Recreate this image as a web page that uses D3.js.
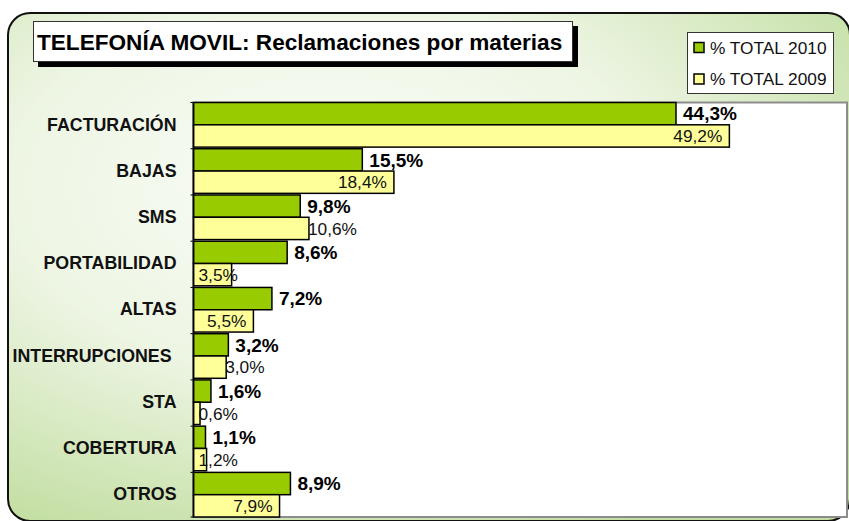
<!DOCTYPE html>
<html lang="es">
<head>
<meta charset="utf-8">
<script src="https://d3js.org/d3.v7.min.js"></script>
<style>
  body { margin: 0; background: #fff; }
  text { font-family: "Liberation Sans", Arial, sans-serif; }
</style>
</head>
<body>

<svg width="849" height="521"></svg>

<script>

// data
var categories = ["FACTURACIÓN", "BAJAS", "SMS", "PORTABILIDAD", "ALTAS", "INTERRUPCIONES ", "STA", "COBERTURA", "OTROS"];
var total2010 = [44.3, 15.5, 9.8, 8.6, 7.2, 3.2, 1.6, 1.1, 8.9];
var total2009 = [49.2, 18.4, 10.6, 3.5, 5.5, 3.0, 0.6, 1.2, 7.9];
var seriesNames = ["% TOTAL 2010", "% TOTAL 2009"];
var title = "TELEFONÍA MOVIL: Reclamaciones por materias";

// where the 2009 labels sit (inside the bar end or just after it)
var labelPos2009 = ["in", "in", "out", "in", "in", "out", "in", "in", "in"];

var colors = ["#99cc00", "#ffff99"];

var svg = d3.select("svg");
var es = d3.formatLocale({decimal: ",", thousands: ".", grouping: [3], currency: ["", "€"]});
var fmt = es.format(".1f");

// background panel
var defs = svg.append("defs");
var grad = defs.append("radialGradient")
  .attr("id", "bg")
  .attr("cx", "38%").attr("cy", "34%").attr("r", "76%");
grad.append("stop").attr("offset", "0").attr("stop-color", "#fbfdf8");
grad.append("stop").attr("offset", "0.5").attr("stop-color", "#edf5e3");
grad.append("stop").attr("offset", "1").attr("stop-color", "#c2dea1");

svg.append("rect")
  .attr("x", 8).attr("y", 13)
  .attr("width", 842).attr("height", 508)
  .attr("rx", 22).attr("ry", 22)
  .attr("fill", "url(#bg)")
  .attr("stroke", "#111")
  .attr("stroke-width", 2);

// plot area
var plot = {left: 193.5, right: 847, top: 102.5, bottom: 517};

svg.append("rect")
  .attr("x", plot.left).attr("y", plot.top)
  .attr("width", plot.right - plot.left).attr("height", plot.bottom - plot.top)
  .attr("fill", "#fff")
  .attr("stroke", "#8c8c8c")
  .attr("stroke-width", 2);

var x = d3.scaleLinear()
  .domain([0, 60])
  .range([plot.left, plot.right]);

var y = d3.scaleBand()
  .domain(categories)
  .range([plot.top, plot.bottom])
  .paddingInner(0.035)
  .paddingOuter(0)
  .align(0);

var inner = d3.scaleBand()
  .domain([0, 1])
  .range([0, y.bandwidth()]);

var rows = categories.map(function (c, i) {
  return {cat: c, values: [total2010[i], total2009[i]], pos: labelPos2009[i]};
});

var g = svg.selectAll(".cat")
  .data(rows)
  .enter().append("g")
  .attr("class", "cat")
  .attr("transform", function (d) { return "translate(0," + y(d.cat) + ")"; });

g.selectAll("rect")
  .data(function (d) { return d.values; })
  .enter().append("rect")
  .attr("x", x(0))
  .attr("y", function (d, i) { return inner(i); })
  .attr("width", function (d) { return x(d) - x(0); })
  .attr("height", inner.bandwidth())
  .attr("fill", function (d, i) { return colors[i]; })
  .attr("stroke", "#000")
  .attr("stroke-width", 1.5);

// 2010 labels: bold, after the bar
g.append("text")
  .attr("x", function (d) { return x(d.values[0]) + 7; })
  .attr("y", inner(0) + inner.bandwidth() / 2)
  .attr("dy", "0.36em")
  .attr("font-size", "19px")
  .attr("font-weight", "bold")
  .attr("fill", "#000")
  .text(function (d) { return fmt(d.values[0]) + "%"; });

// 2009 labels: regular
g.append("text")
  .attr("y", inner(1) + inner.bandwidth() / 2)
  .attr("dy", "0.36em")
  .attr("font-size", "17.3px")
  .attr("fill", "#111")
  .text(function (d) { return fmt(d.values[1]) + "%"; })
  .each(function (d) {
    var t = d3.select(this);
    var w = this.getComputedTextLength();
    var end = x(d.values[1]);
    var start;
    if (d.pos === "out") {
      start = end - 1;
    } else {
      start = Math.max(end - 7 - w, x(0) + 5);
    }
    t.attr("x", start);
  });

// category axis
var axis = svg.append("g")
  .attr("transform", "translate(" + plot.left + ",0)")
  .call(d3.axisLeft(y).tickSize(0).tickPadding(17));

axis.select(".domain").remove();
axis.selectAll("text")
  .attr("font-size", "17.8px")
  .attr("font-weight", "bold")
  .attr("fill", "#111")
  .style("white-space", "pre");

svg.append("line")
  .attr("x1", plot.left).attr("x2", plot.left)
  .attr("y1", plot.top).attr("y2", plot.bottom)
  .attr("stroke", "#000")
  .attr("stroke-width", 1.5);

var tickYs = categories.map(function (c) { return y(c); }).concat([plot.bottom]);
svg.selectAll(".tick-mark")
  .data(tickYs)
  .enter().append("line")
  .attr("class", "tick-mark")
  .attr("x1", plot.left - 3).attr("x2", plot.left)
  .attr("y1", function (d) { return d; })
  .attr("y2", function (d) { return d; })
  .attr("stroke", "#000");

// title box with shadow
svg.append("rect")
  .attr("x", 38).attr("y", 26)
  .attr("width", 540).attr("height", 41)
  .attr("fill", "#000");

svg.append("rect")
  .attr("x", 33.5).attr("y", 21.5)
  .attr("width", 539).attr("height", 40)
  .attr("fill", "#fff")
  .attr("stroke", "#333")
  .attr("stroke-width", 1);

svg.append("text")
  .attr("x", 37).attr("y", 49.5)
  .attr("font-size", "22.6px")
  .attr("font-weight", "bold")
  .attr("fill", "#000")
  .text(title);

// legend
var legend = svg.append("g");

legend.append("rect")
  .attr("x", 687.5).attr("y", 32.5)
  .attr("width", 146).attr("height", 61)
  .attr("fill", "#fff")
  .attr("stroke", "#333")
  .attr("stroke-width", 1);

var item = legend.selectAll(".item")
  .data(seriesNames)
  .enter().append("g")
  .attr("class", "item")
  .attr("transform", function (d, i) { return "translate(0," + (47.5 + i * 31.5) + ")"; });

item.append("rect")
  .attr("x", 694).attr("y", -5)
  .attr("width", 10).attr("height", 10)
  .attr("fill", function (d, i) { return colors[i]; })
  .attr("stroke", "#000")
  .attr("stroke-width", 1.5);

item.append("text")
  .attr("x", 710)
  .attr("dy", "0.36em")
  .attr("font-size", "17.3px")
  .attr("fill", "#111")
  .text(function (d) { return d; });

</script>

</body>
</html>
